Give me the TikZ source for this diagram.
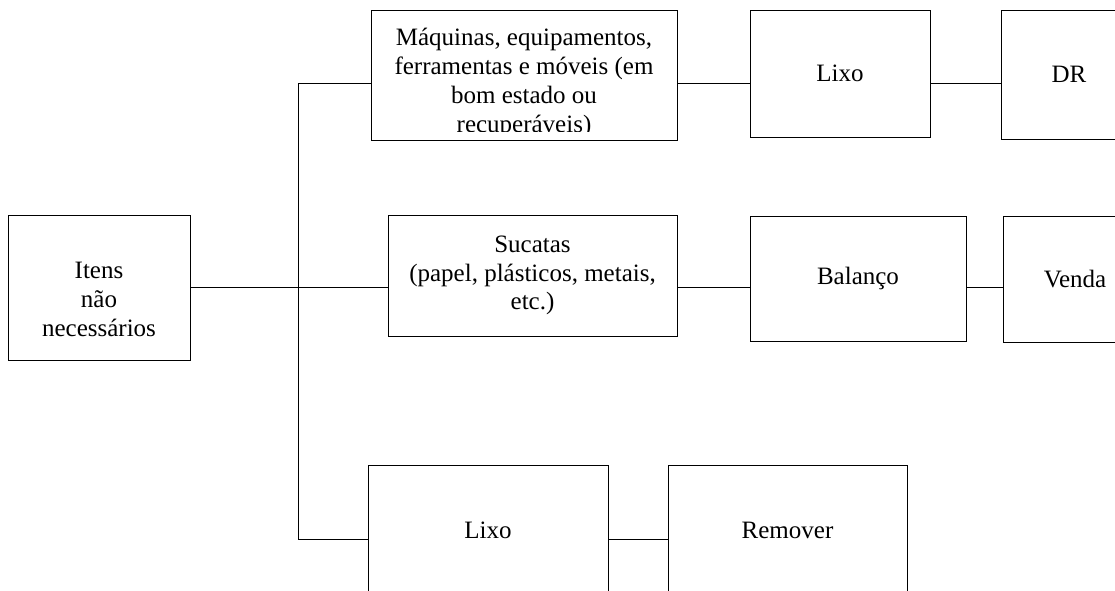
\documentclass[tikz,border=0pt]{standalone}
\usepackage{fontspec}
\setmainfont{Liberation Serif}

\begin{document}
\begin{tikzpicture}[
      x=1pt, y=-1pt,
      line width=1pt,
      every node/.style={rectangle, draw, align=center, inner sep=3pt,
        font=\fontsize{25}{28.75}\selectfont},
      box/.style 2 args={minimum width=#1pt, minimum height=#2pt},
      txt/.style={draw=none}
    ]
  \useasboundingbox (0,0) rectangle (1115,590);
  \clip (0,0) rectangle (1115,590);
  \node[box={182}{145}] (itens) at (99,287.5) {};
  \node[txt] at ([yshift=-12pt]itens.center) {Itens\\não\\necessários};
  % first column
  \node[box={306}{130}] (maquinas) at (524,75) {};
  \begin{scope}
    \clip (maquinas.north west) rectangle ([yshift=9pt]maquinas.south east);
    \node[txt] at ([yshift=-8pt]maquinas.center)
      {Máquinas, equipamentos,\\ferramentas e móveis (em\\bom estado ou\\recuperáveis)};
  \end{scope}
  \node[box={289}{121}] (sucatas) at (532.5,275.5)
    {Sucatas\\(papel, plásticos, metais,\\etc.)};
  \node[box={240}{130}] (lixob) at (488,530) {Lixo};
  % second column
  \node[box={180}{127}] (lixoa) at (840,73.5) {Lixo};
  \node[box={216}{125}] (balanco) at (858,278.5) {Balanço};
  \node[box={239}{130}] (remover) at (787.5,530) {Remover};
  % third column
  \node[box={136}{129}] (dr) at (1069,74.5) {DR};
  \node[box={144}{126}] (venda) at (1075,279) {Venda};
  % connectors
  \coordinate (ttop) at (298,83);
  \coordinate (tbot) at (298,539);
  \draw (ttop) -- (tbot);
  \draw (itens.east) -- (itens.east -| sucatas.west);
  \draw (ttop) -- (ttop -| maquinas.west);
  \draw (tbot) -- (tbot -| lixob.west);
  \draw (maquinas.east |- ttop) -- (lixoa.west |- ttop);
  \draw (lixoa.east |- ttop) -- (dr.west |- ttop);
  \draw (sucatas.east |- itens.east) -- (balanco.west |- itens.east);
  \draw (balanco.east |- itens.east) -- (venda.west |- itens.east);
  \draw (lixob.east |- tbot) -- (remover.west |- tbot);
\end{tikzpicture}
\end{document}
